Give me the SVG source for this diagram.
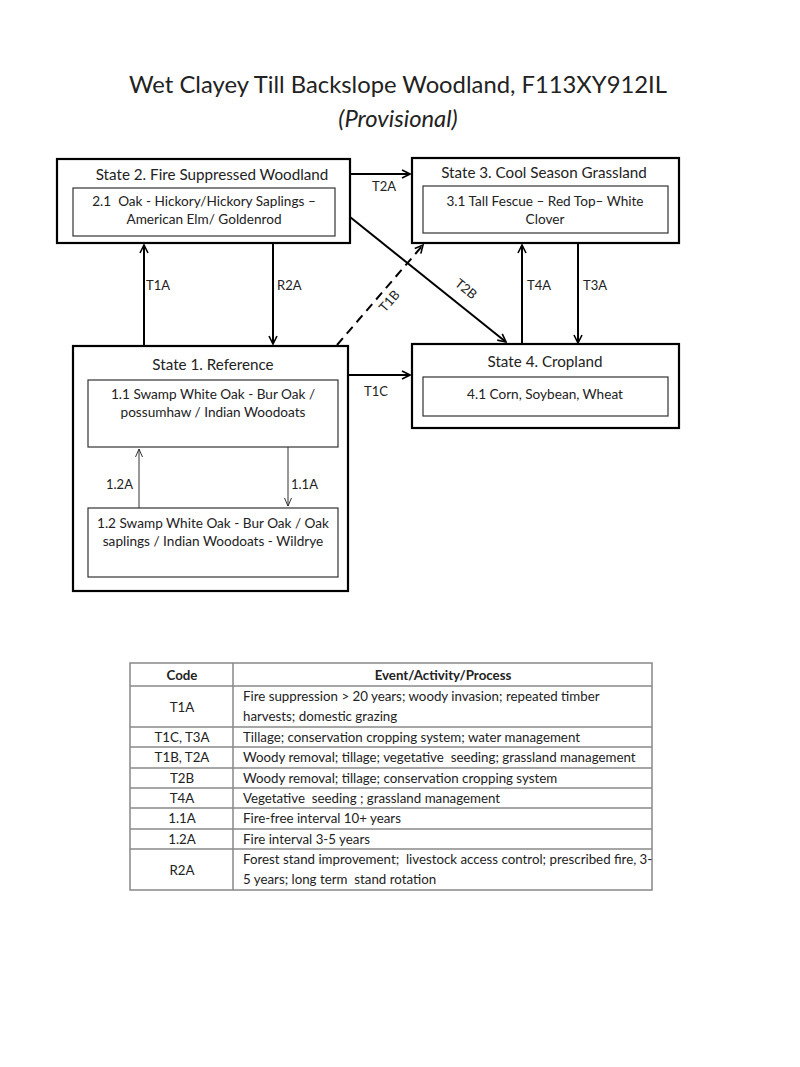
<svg xmlns="http://www.w3.org/2000/svg" width="800" height="1067" viewBox="0 0 800 1067">
<style>
text{font-family:Lato,"Open Sans","Liberation Sans",sans-serif;fill:#222;white-space:pre}
.box{fill:#fff;stroke:#000;stroke-width:2.2}
.inner{fill:#fff;stroke:#333;stroke-width:1.2}
.st{font-size:15.2px;text-anchor:middle}
.in{font-size:13.6px;text-anchor:middle}
.lbl{font-size:13px}
.c{stroke:#000;stroke-width:2;fill:none}
.thin{stroke:#333;stroke-width:1;fill:none}
.tb{font-size:13.3px}
.tl{stroke:#888;stroke-width:1.5}
</style>
<defs>
<marker id="ah" viewBox="0 0 10 10" refX="9" refY="5" markerWidth="5" markerHeight="5" orient="auto" markerUnits="strokeWidth">
<path d="M1,1 L9,5 L1,9" fill="none" stroke="#000" stroke-width="1.6"/>
</marker>
<marker id="ahs" viewBox="0 0 10 10" refX="9" refY="5" markerWidth="10" markerHeight="10" orient="auto" markerUnits="strokeWidth">
<path d="M1,1.5 L9,5 L1,8.5" fill="none" stroke="#333" stroke-width="1"/>
</marker>
</defs>
<rect width="800" height="1067" fill="#fff"/>
<g id="title">
<text x="398" y="93" font-size="23.8" text-anchor="middle">Wet Clayey Till Backslope Woodland, F113XY912IL</text>
<text x="398" y="127" font-size="23.8" text-anchor="middle" font-style="italic">(Provisional)</text>
</g>
<g id="state2">
<rect class="box" x="57" y="159" width="293" height="84"/>
<text class="st" x="212" y="180">State 2. Fire Suppressed Woodland</text>
<rect class="inner" x="73" y="188" width="262" height="48"/>
<text class="in" x="204" y="206">2.1  Oak - Hickory/Hickory Saplings –</text>
<text class="in" x="204" y="224">American Elm/ Goldenrod</text>
</g>
<g id="state3">
<rect class="box" x="412" y="158" width="267" height="85"/>
<text class="st" x="544" y="178">State 3. Cool Season Grassland</text>
<rect class="inner" x="423" y="186" width="245" height="47"/>
<text class="in" x="545" y="206">3.1 Tall Fescue – Red Top– White</text>
<text class="in" x="545" y="224">Clover</text>
</g>
<g id="state4">
<rect class="box" x="412" y="344" width="267" height="84"/>
<text class="st" x="545" y="367">State 4. Cropland</text>
<rect class="inner" x="423" y="377" width="245" height="39"/>
<text class="in" x="545" y="399">4.1 Corn, Soybean, Wheat</text>
</g>
<g id="state1">
<rect class="box" x="73" y="346" width="275" height="245"/>
<text class="st" x="213" y="370">State 1. Reference</text>
<rect class="inner" x="88" y="380" width="250" height="67"/>
<text class="in" x="213" y="399">1.1 Swamp White Oak - Bur Oak /</text>
<text class="in" x="213" y="417">possumhaw / Indian Woodoats</text>
<rect class="inner" x="88" y="508" width="250" height="69"/>
<text class="in" x="213" y="528">1.2 Swamp White Oak - Bur Oak / Oak</text>
<text class="in" x="213" y="546">saplings / Indian Woodoats - Wildrye</text>
</g>
<g id="connectors">
<line class="c" x1="144" y1="345" x2="144" y2="245" marker-end="url(#ah)"/>
<line class="c" x1="273" y1="243" x2="273" y2="344" marker-end="url(#ah)"/>
<line class="c" x1="350" y1="174" x2="410" y2="174" marker-end="url(#ah)"/>
<line class="c" x1="350" y1="217" x2="506" y2="342" marker-end="url(#ah)"/>
<line class="c" x1="337" y1="345" x2="423" y2="245" stroke-dasharray="9,6" marker-end="url(#ah)"/>
<line class="c" x1="522" y1="344" x2="522" y2="245" marker-end="url(#ah)"/>
<line class="c" x1="578" y1="243" x2="578" y2="343" marker-end="url(#ah)"/>
<line class="c" x1="348" y1="375" x2="410" y2="375" marker-end="url(#ah)"/>
<line class="thin" x1="139" y1="508" x2="139" y2="449" marker-end="url(#ahs)"/>
<line class="thin" x1="288" y1="447" x2="288" y2="506" marker-end="url(#ahs)"/>
<text class="lbl" x="146" y="290">T1A</text>
<text class="lbl" x="277" y="290">R2A</text>
<text class="lbl" x="372" y="191">T2A</text>
<text class="lbl" x="0" y="0" transform="translate(454,285) rotate(39)">T2B</text>
<text class="lbl" x="0" y="0" transform="translate(385,313) rotate(-49)">T1B</text>
<text class="lbl" x="527" y="290">T4A</text>
<text class="lbl" x="583" y="290">T3A</text>
<text class="lbl" x="364" y="396">T1C</text>
<text class="lbl" x="106" y="489">1.2A</text>
<text class="lbl" x="291" y="489">1.1A</text>
</g>
<g id="table">
<rect x="130" y="663" width="522" height="227" fill="#fff" stroke="#888" stroke-width="1.5"/>
<line class="tl" x1="233" y1="663" x2="233" y2="890"/>
<line class="tl" x1="130" y1="686" x2="652" y2="686"/>
<line class="tl" x1="130" y1="727" x2="652" y2="727"/>
<line class="tl" x1="130" y1="747" x2="652" y2="747"/>
<line class="tl" x1="130" y1="768" x2="652" y2="768"/>
<line class="tl" x1="130" y1="788" x2="652" y2="788"/>
<line class="tl" x1="130" y1="808" x2="652" y2="808"/>
<line class="tl" x1="130" y1="829" x2="652" y2="829"/>
<line class="tl" x1="130" y1="849" x2="652" y2="849"/>
<text class="tb" x="182" y="680" text-anchor="middle" font-weight="bold">Code</text>
<text class="tb" x="443" y="680" text-anchor="middle" font-weight="bold">Event/Activity/Process</text>
<text class="tb" x="182" y="712" text-anchor="middle">T1A</text>
<text class="tb" x="243" y="701">Fire suppression &gt; 20 years; woody invasion; repeated timber</text>
<text class="tb" x="243" y="721">harvests; domestic grazing</text>
<text class="tb" x="182" y="742" text-anchor="middle">T1C, T3A</text>
<text class="tb" x="243" y="742">Tillage; conservation cropping system; water management</text>
<text class="tb" x="182" y="762" text-anchor="middle">T1B, T2A</text>
<text class="tb" x="243" y="762">Woody removal; tillage; vegetative  seeding; grassland management</text>
<text class="tb" x="182" y="783" text-anchor="middle">T2B</text>
<text class="tb" x="243" y="783">Woody removal; tillage; conservation cropping system</text>
<text class="tb" x="182" y="803" text-anchor="middle">T4A</text>
<text class="tb" x="243" y="803">Vegetative  seeding ; grassland management</text>
<text class="tb" x="182" y="823" text-anchor="middle">1.1A</text>
<text class="tb" x="243" y="823">Fire-free interval 10+ years</text>
<text class="tb" x="182" y="844" text-anchor="middle">1.2A</text>
<text class="tb" x="243" y="844">Fire interval 3-5 years</text>
<text class="tb" x="182" y="875" text-anchor="middle">R2A</text>
<text class="tb" x="243" y="864">Forest stand improvement;  livestock access control; prescribed fire, 3-</text>
<text class="tb" x="243" y="884">5 years; long term  stand rotation</text>
</g>
</svg>
